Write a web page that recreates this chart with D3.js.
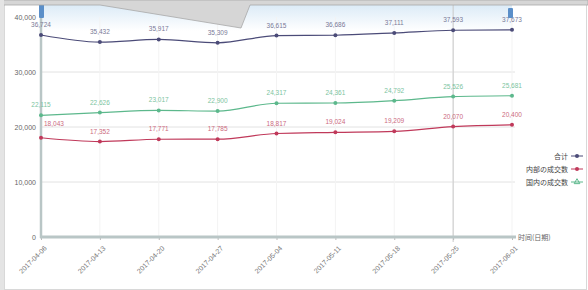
<!DOCTYPE html>
<html><head><meta charset="utf-8">
<script src="https://cdn.jsdelivr.net/npm/d3@7"></script>
<style>
html,body{margin:0;padding:0;background:#fff;}
svg{display:block;font-family:"Liberation Sans",Arial,sans-serif;}
</style></head>
<body><svg id="c" width="588" height="290"></svg>
<script>
const dates = ["2017-04-06","2017-04-13","2017-04-20","2017-04-27","2017-05-04","2017-05-11","2017-05-18","2017-05-25","2017-06-01"];
const seriesNames = ["合计","内部の成交数","国内の成交数"];
const totalValues = [36724,35432,35917,35309,36615,36686,37111,37593,37673];
const redValues = [18043,17352,17771,17785,18817,19024,19209,20070,20400];
const greenValues = [22115,22626,23017,22900,24317,24361,24792,25526,25681];
const yTicks = [0,10000,20000,30000,40000];
const xAxisTitle = "时间(日期)";

const colors = ["#4b4b78","#c0395a","#5cb88c"];
const labelColors = ["#7a7a98","#cc6a80","#7cc4a0"];
const series = [totalValues, redValues, greenValues];

const svg = d3.select("#c");
const x = d3.scalePoint().domain(dates).range([41,512]);
const y = d3.scaleLinear().domain([0,40000]).range([237,17]);

svg.append("rect").attr("x",4.5).attr("y",0.5).attr("width",582).attr("height",289)
  .attr("fill","#fff").attr("stroke","#d8d8d8");

const defs = svg.append("defs");
const g1 = defs.append("linearGradient").attr("id","band").attr("x1",0).attr("y1",0).attr("x2",0).attr("y2",1);
g1.append("stop").attr("offset","0%").attr("stop-color","#dcebf7");
g1.append("stop").attr("offset","100%").attr("stop-color","#ffffff");
svg.append("rect").attr("x",x(dates[0])).attr("y",5).attr("width",x(dates[8])-x(dates[0])).attr("height",26).attr("fill","url(#band)");

svg.append("g").selectAll("line").data(yTicks.filter(d=>d>0 && d<40000)).join("line")
  .attr("x1",41).attr("x2",515).attr("y1",d=>y(d)).attr("y2",d=>y(d))
  .attr("stroke","#e2e2e2").attr("stroke-width",1);
svg.append("g").selectAll("line").data(dates).join("line")
  .attr("x1",d=>x(d)).attr("x2",d=>x(d)).attr("y1",17).attr("y2",237)
  .attr("stroke","#f3f3f3").attr("stroke-width",1);
svg.append("line").attr("x1",x(dates[7])).attr("x2",x(dates[7])).attr("y1",5).attr("y2",242)
  .attr("stroke","#c8c8c8").attr("stroke-width",1);

const yAxis = d3.axisLeft(y).tickValues(yTicks).tickFormat(d3.format(",")).tickSize(0).tickPadding(5);
const ya = svg.append("g").attr("transform","translate(41,0)").call(yAxis);
ya.select(".domain").remove();
ya.selectAll("text").attr("fill","#666").style("font-size","7px");
svg.append("line").attr("x1",41).attr("x2",41).attr("y1",10).attr("y2",238).attr("stroke","#b9c6c6").attr("stroke-width",2.5);

const xAxis = d3.axisBottom(x).tickSize(3).tickPadding(3);
const xa = svg.append("g").attr("transform","translate(0,237)").call(xAxis);
xa.select(".domain").remove();
xa.selectAll(".tick line").attr("stroke","#bbb");
xa.selectAll("text").attr("fill","#777").style("font-size","7px")
  .attr("text-anchor","end").attr("transform","translate(-2,4) rotate(-45)");
svg.append("line").attr("x1",40).attr("x2",516).attr("y1",237).attr("y2",237).attr("stroke","#b9c6c6").attr("stroke-width",3);
svg.append("text").attr("x",518).attr("y",239.5).attr("fill","#666").style("font-size","7px")
  .style("font-family","'Noto Sans CJK SC',sans-serif").text(xAxisTitle);

const line = d3.line().x((d,i)=>x(dates[i])).y(d=>y(d)).curve(d3.curveMonotoneX);
series.forEach((vals,k)=>{
  svg.append("path").attr("d",line(vals)).attr("fill","none").attr("stroke",colors[k]).attr("stroke-width",1.2);
  svg.append("g").selectAll("circle").data(vals).join("circle")
    .attr("cx",(d,i)=>x(dates[i])).attr("cy",d=>y(d)).attr("r",2).attr("fill",colors[k]);
  svg.append("g").selectAll("text").data(vals).join("text")
    .attr("x",(d,i)=>x(dates[i]) + (i===0 && k===1 ? 3 : 0))
    .attr("y",(d,i)=>y(d)-(i===0 && k===1 ? 12 : 8))
    .attr("text-anchor",(d,i)=>(i===0 && k===1) ? "start" : "middle")
    .attr("fill",labelColors[k]).style("font-size","6.5px").text(d=>d3.format(",")(d));
});

const lg = svg.append("g");
seriesNames.forEach((n,k)=>{
  const ly = 156 + k*13;
  lg.append("text").attr("x",568).attr("y",ly+2.5).attr("text-anchor","end").attr("fill","#444")
    .style("font-size","7px").style("font-family","'Noto Sans CJK SC',sans-serif").text(n);
  lg.append("line").attr("x1",571).attr("x2",583).attr("y1",ly).attr("y2",ly).attr("stroke",colors[k]).attr("stroke-width",1);
  if (k<2) lg.append("circle").attr("cx",577).attr("cy",ly).attr("r",2).attr("fill",colors[k]);
  else lg.append("path").attr("d",d3.symbol(d3.symbolTriangle,14)()).attr("transform",`translate(577,${ly})`).attr("fill","none").attr("stroke",colors[k]);
});

svg.append("rect").attr("x",39).attr("y",3).attr("width",5).attr("height",15).attr("fill","#5b8fc9").attr("rx",1);
svg.append("rect").attr("x",508).attr("y",8).attr("width",5).attr("height",10).attr("fill","#5b8fc9").attr("rx",1);

svg.append("path").attr("d","M0,0 L588,0 L588,5 L250,5 L241,28 L100,5 L0,5 Z")
  .attr("fill","#d6d6d6").attr("stroke","#a8a8a8").attr("stroke-width",0.8);
svg.append("rect").attr("x",0).attr("y",0).attr("width",4).attr("height",290).attr("fill","#e4e4e4");
</script></body></html>
